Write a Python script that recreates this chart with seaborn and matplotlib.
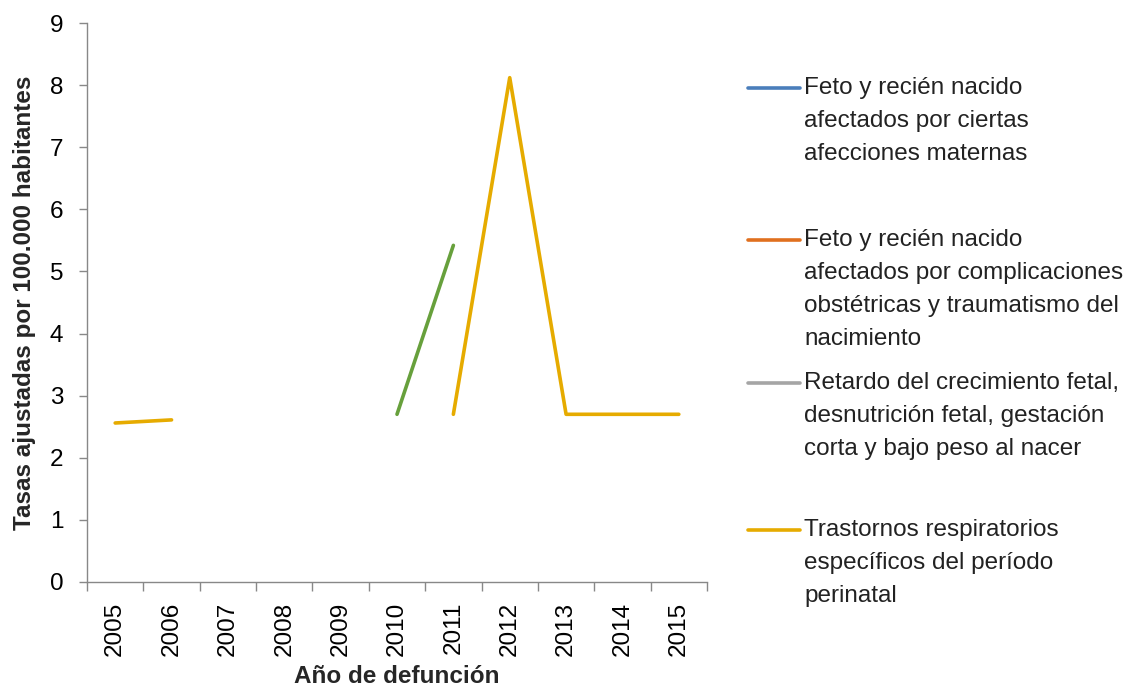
import matplotlib
matplotlib.use("Agg")
import matplotlib.pyplot as plt
import seaborn as sns
import numpy as np
import pandas as pd
from matplotlib.lines import Line2D

sns.set_theme(style="white")
plt.rcParams['font.family'] = ['Liberation Sans', 'DejaVu Sans']

years = [2005, 2006, 2007, 2008, 2009, 2010, 2011, 2012, 2013, 2014, 2015]
nan = np.nan
serie_maternas = [nan] * 11
serie_complicaciones = [nan] * 11
serie_retardo = [nan] * 11
serie_respiratorios = [2.56, 2.61, nan, nan, nan, nan, 2.70, 8.12, 2.70, 2.70, 2.70]
serie_otros = [nan, nan, nan, nan, nan, 2.70, 5.42, nan, nan, nan, nan]

labels = [
    "Feto y recién nacido\nafectados por ciertas\nafecciones maternas",
    "Feto y recién nacido\nafectados por complicaciones\nobstétricas y traumatismo del\nnacimiento",
    "Retardo del crecimiento fetal,\ndesnutrición fetal, gestación\ncorta y bajo peso al nacer",
    "Trastornos respiratorios\nespecíficos del período\nperinatal",
]
colors = ["#4a7ebb", "#e0701f", "#a5a5a5", "#e6ab00"]
green = "#67a03c"

FS = 17.5
fig = plt.figure(figsize=(11.24, 6.90), dpi=100)
ax = fig.add_axes([87/1124, 1-582/690, (707-87)/1124, (582-23)/690])

def draw(values, color):
    x = np.arange(len(years))
    v = np.array(values, dtype=float)
    seg = np.cumsum(np.isnan(v))
    df = pd.DataFrame({"x": x, "y": v, "seg": seg}).dropna()
    if len(df) == 0:
        return
    sns.lineplot(data=df, x="x", y="y", units="seg", estimator=None, color=color,
                 linewidth=2.6, ax=ax, legend=False)

for vals, c in zip([serie_maternas, serie_complicaciones, serie_retardo, serie_respiratorios], colors):
    draw(vals, c)
draw(serie_otros, green)

ax.set_xlim(-0.5, len(years) - 0.5)
ax.set_ylim(0, 9)
ax.set_yticks(range(0, 10))
ax.set_yticklabels([str(i) for i in range(10)], fontsize=FS)
ax.set_xticks(np.arange(len(years)))
ax.set_xticklabels([str(y) for y in years], rotation=90, fontsize=FS)
ax.set_xticks(np.arange(-0.5, len(years)), minor=True)
ax.tick_params(axis='x', which='major', length=0, pad=14, colors='black')
ax.tick_params(axis='x', which='minor', length=6.5, width=1, color='#888888', direction='out', bottom=True)
ax.tick_params(axis='y', length=6, width=1, color='#888888', direction='out', left=True, pad=11, labelcolor='black')
for s in ['top', 'right']:
    ax.spines[s].set_visible(False)
for s in ['left', 'bottom']:
    ax.spines[s].set_color('#888888')
    ax.spines[s].set_linewidth(1)
ax.grid(False)
ax.set_xlabel("Año de defunción", fontsize=FS, fontweight='bold', labelpad=7)
ax.set_ylabel("Tasas ajustadas por 100.000 habitantes", fontsize=FS, fontweight='bold', labelpad=10)

# legend (manual layout)
entry_y = [88, 240, 383, 530]
line_gap = 33
for lab, c, yy in zip(labels, colors, entry_y):
    fy = 1 - yy / 690
    fig.add_artist(Line2D([748/1124, 800/1124], [fy, fy], color=c, linewidth=2.6,
                          transform=fig.transFigure))
    for i, ln in enumerate(lab.split("\n")):
        fig.text(804/1124, 1 - (yy + i * line_gap) / 690, ln, fontsize=FS,
                 va='center', ha='left', color='#222222')

fig.savefig("out.png", dpi=100, facecolor='white')
